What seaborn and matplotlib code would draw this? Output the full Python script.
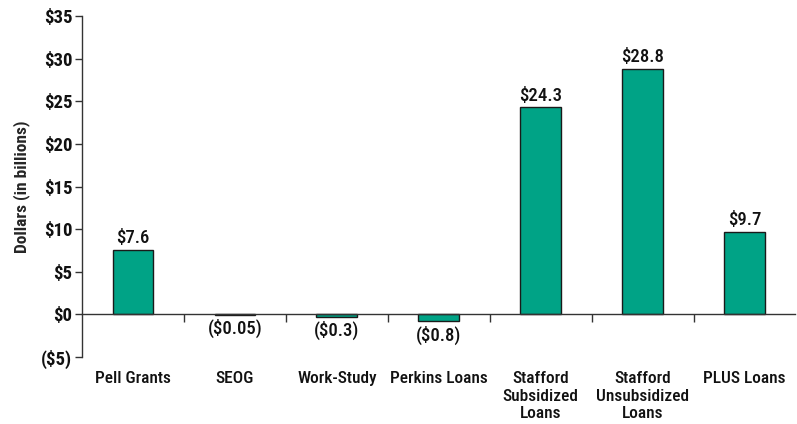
import matplotlib
matplotlib.use("Agg")
import matplotlib.pyplot as plt
import seaborn as sns
import pandas as pd

# Net federal aid by program (billions of dollars)
programs = ["Pell Grants", "SEOG", "Work-Study", "Perkins Loans",
            "Stafford\nSubsidized\nLoans", "Stafford\nUnsubsidized\nLoans", "PLUS Loans"]
amounts = [7.6, -0.05, -0.3, -0.8, 24.3, 28.8, 9.7]
y_ticks = [-5, 0, 5, 10, 15, 20, 25, 30, 35]

sns.set_theme(style="white")
plt.rcParams["font.family"] = ["Roboto Condensed", "DejaVu Sans"]

df = pd.DataFrame({"program": programs, "amount": amounts})

fig = plt.figure(figsize=(7.97, 4.24), dpi=100)
ax = fig.add_axes([0.103, 0.158, 0.895, 0.804])

bar_color = "#00A386"
sns.barplot(data=df, x="program", y="amount", color=bar_color, width=0.4,
            edgecolor="#1a1a1a", linewidth=1.0, saturation=1, ax=ax)

def money(v):
    return f"${v:g}" if v >= 0 else f"(${-v:g})"

for i, v in enumerate(amounts):
    if v >= 0:
        ax.annotate(money(v), (i, v), xytext=(0, 2), textcoords="offset points",
                    ha="center", va="bottom", fontsize=13.5, fontweight=500,
                    color="#111111")
    else:
        ax.annotate(money(v), (i, v), xytext=(0, -3), textcoords="offset points",
                    ha="center", va="top", fontsize=13.5, fontweight=500,
                    color="#111111")

ax.set_ylim(-5, 35)
ax.set_xlim(-0.5, len(programs) - 0.5)
ax.set_yticks(y_ticks)
ax.set_yticklabels([money(t) for t in y_ticks], fontsize=13.5, fontweight="bold")
ax.set_ylabel("Dollars (in billions)", fontsize=12.5, fontweight="bold", labelpad=8)
ax.set_xlabel("")

# x-axis line sits at zero; category labels hang below the plot
for s in ["top", "right"]:
    ax.spines[s].set_visible(False)
ax.spines["bottom"].set_position(("data", 0))
for s in ["bottom", "left"]:
    ax.spines[s].set_color("#333333")
    ax.spines[s].set_linewidth(1.0)

ax.set_xticks(range(len(programs)))
ax.set_xticklabels(programs, fontsize=12.5, fontweight=500, linespacing=1.2, va="top")
ax.tick_params(axis="x", which="major", length=0, pad=41, colors="#111111")
ax.set_xticks([i + 0.5 for i in range(len(programs) - 1)], minor=True)
ax.tick_params(axis="x", which="minor", length=6, width=1.0, direction="out",
               color="#333333", bottom=True)
ax.tick_params(axis="y", length=5, width=1.0, direction="out", color="#333333",
               left=True, pad=2, labelcolor="#111111")

fig.savefig("out.png", dpi=100)
